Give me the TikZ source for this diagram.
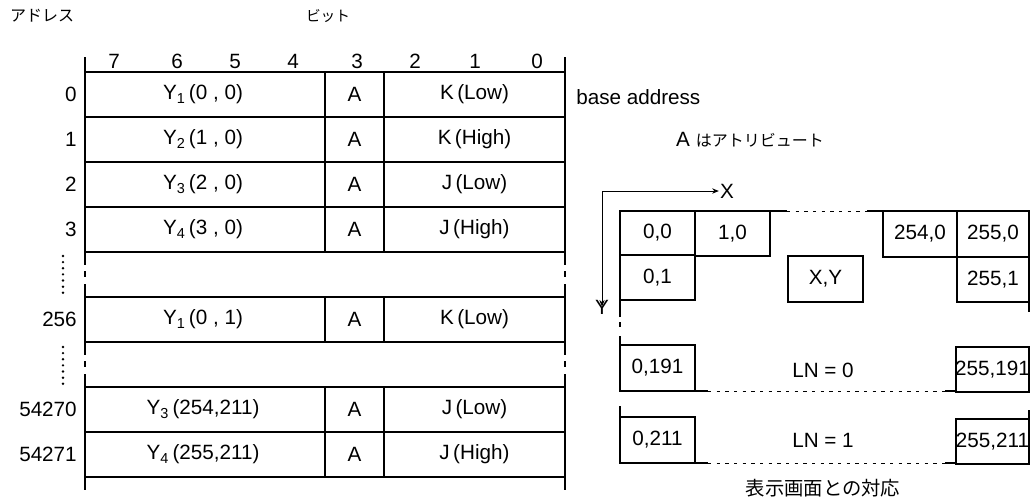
\documentclass[tikz,border=0pt]{standalone}
\usepackage{fontspec}
\setmainfont{Liberation Sans}
\newfontfamily\jpfont{Noto Sans CJK JP}
\usetikzlibrary{arrows.meta}

\begin{document}
\begin{tikzpicture}[x=0.75pt,y=0.75pt,yscale=-1,xscale=1,
        rule/.style={line width=0.9pt},
        gapline/.style={line width=0.7pt,dash pattern=on 2.5pt off 4pt},
        dotcol/.style={line width=2pt,line cap=round,dash pattern=on 0pt off 4.6pt},
        axis/.style={line width=0.7pt,-{Stealth[length=5pt,width=4pt]}},
        lbl/.style={inner sep=0.75pt,font=\fontsize{15.5}{18}\selectfont},
        jlbl/.style={inner sep=0.75pt,font=\fontsize{12}{14}\selectfont\jpfont}]
        \useasboundingbox (0,0) rectangle (1031,501);
        % headings
        \node[jlbl] (addrhead) at (42,16) {アドレス};
        \node[jlbl,font=\fontsize{11}{13}\selectfont\jpfont] (bithead) at (328,16) {ビット};
        \foreach \b/\x in {7/114,6/177,5/235,4/293,3/357,2/415,1/475,0/537}
            \node[lbl] (bit\b) at (\x,61) {\b};
        % memory table
        \foreach \y in {72,117,162,207,252,297,342,387,432,477}
            \draw[rule] (85,\y) -- (565,\y);
        \foreach \x in {85,565}{
            \draw[rule] (\x,57) -- (\x,265);
            \draw[rule] (\x,271) -- (\x,277);
            \draw[rule] (\x,284) -- (\x,355);
            \draw[rule] (\x,361) -- (\x,367);
            \draw[rule] (\x,374) -- (\x,490);
        }
        \foreach \t in {72,117,162,207,297,387,432}{
            \draw[rule] (325,\t) -- (325,\t+45);
            \draw[rule] (384,\t) -- (384,\t+45);
        }
        \foreach \n/\y/\f/\d in {0/94.5/{Y\textsubscript{1}\,(0 , 0)}/{K\,(Low)},
                1/139.5/{Y\textsubscript{2}\,(1 , 0)}/{K\,(High)},
                2/184.5/{Y\textsubscript{3}\,(2 , 0)}/{J\,(Low)},
                3/229.5/{Y\textsubscript{4}\,(3 , 0)}/{J\,(High)},
                256/319.5/{Y\textsubscript{1}\,(0 , 1)}/{K\,(Low)},
                54270/409.5/{Y\textsubscript{3}\,(254,211)}/{J\,(Low)},
                54271/454.5/{Y\textsubscript{4}\,(255,211)}/{J\,(High)}}{
            \node[lbl,anchor=east] (addr\n) at (78,\y) {\n};
            \node[lbl] (pos\n) at (203,\y) {\f};
            \node[lbl] (attr\n) at (354.5,\y) {A};
            \node[lbl] (code\n) at (474.5,\y) {\d};
        }
        \draw[dotcol] (63,256) -- (63,293);
        \draw[dotcol] (63,347) -- (63,384);
        \node[lbl,anchor=west] (base) at (575,97) {base address};
        \node[lbl] (attrnote) at (750,140) {A {\fontsize{12}{14}\selectfont\jpfont はアトリビュート}};
        % screen
        \coordinate (org) at (602,191);
        \node[lbl] (xaxis) at (727,191) {X};
        \node[lbl] (yaxis) at (602,307) {Y};
        \draw[axis] (org) -- (xaxis.west);
        \draw[axis] (org) -- ([yshift=6pt]yaxis.north);
        \draw[rule] (620,317) -- (620,211) -- (787,211);
        \draw[gapline] (787,211) -- (867,211);
        \draw[rule] (867,211) -- (1029,211) -- (1029,312);
        \draw[rule] (620,322) -- (620,327);
        \draw[rule] (620,336) -- (620,345);
        \draw[rule] (620,406) -- (620,417);
        \draw[rule] (1029,410) -- (1029,419);
        \foreach \c/\xa/\ya/\xb/\yb in {{0,0}/620/211/695/255, {1,0}/695/211/770/256,
                {0,1}/620/255/695/300, {X,Y}/788/256/863/302,
                {254,0}/883/211/957/257, {255,0}/957/211/1029/257, {255,1}/957/257/1029/302,
                {0,191}/620/345/695/391, {255,191}/956/347/1029/392,
                {0,211}/620/417/695/463, {255,211}/956/419/1029/464}{
            \draw[rule] (\xa,\ya) rectangle (\xb,\yb);
            \node[lbl] (cell\xa-\ya) at ({(\xa+\xb)/2},{(\ya+\yb)/2}) {\c};
        }
        \foreach \y in {391,463}{
            \draw[rule] (695,\y) -- (708,\y);
            \draw[gapline] (708,\y) -- (945,\y);
            \draw[rule] (945,\y) -- (956,\y);
        }
        \node[lbl] (ln0) at (823,370) {LN = 0};
        \node[lbl] (ln1) at (823,440) {LN = 1};
        \node[jlbl,font=\fontsize{14.5}{17}\selectfont\jpfont] (caption) at (823,488) {表示画面との対応};
\end{tikzpicture}
\end{document}
